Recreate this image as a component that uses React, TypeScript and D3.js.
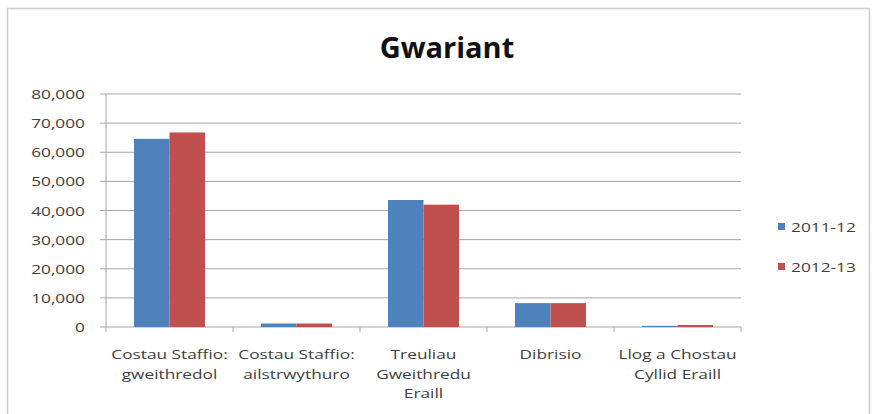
import React, { useEffect, useRef } from 'react';
import * as d3 from 'd3';

const categories = [
  ['Costau Staffio:', 'gweithredol'],
  ['Costau Staffio:', 'ailstrwythuro'],
  ['Treuliau', 'Gweithredu', 'Eraill'],
  ['Dibrisio'],
  ['Llog a Chostau', 'Cyllid Eraill'],
];
const seriesNames = ['2011-12', '2012-13'];
const values2011 = [64600, 1200, 43600, 8200, 400];
const values2012 = [66800, 1200, 42000, 8200, 700];
const yTicks = [0, 10000, 20000, 30000, 40000, 50000, 60000, 70000, 80000];
const colors = ['#4F81BD', '#C0504D'];

const App: React.FC = () => {
  const ref = useRef<SVGSVGElement>(null);

  useEffect(() => {
    if (!ref.current) return;
    const svg = d3.select(ref.current);
    svg.selectAll('*').remove();

    const font = '"Open Sans", "Liberation Sans", sans-serif';
    const left = 106, right = 741, top = 94, bottom = 327;
    const sx = 1.28; // the source picture is stretched sideways

    // small label, stretched horizontally around its anchor point
    const label = (x: number, y: number, txt: string, anchor: string) =>
      svg.append('text')
        .attr('transform', `translate(${x},${y}) scale(${sx},1)`)
        .attr('text-anchor', anchor)
        .attr('font-family', font).attr('font-size', 13.5).attr('fill', '#404040')
        .text(txt);

    // outer frame
    svg.append('rect')
      .attr('x', 7.5).attr('y', 8.5)
      .attr('width', 862).attr('height', 420)
      .attr('fill', '#fff').attr('stroke', '#d0cccc').attr('stroke-width', 1.5);

    svg.append('text')
      .attr('x', 447).attr('y', 58)
      .attr('text-anchor', 'middle')
      .attr('font-family', font).attr('font-weight', 'bold')
      .attr('font-size', 29).attr('fill', '#111')
      .text('Gwariant');

    const x0 = d3.scaleBand<number>()
      .domain(categories.map((_, i) => i))
      .range([left, right]);
    const x1 = d3.scaleBand<number>()
      .domain([0, 1])
      .range([28, x0.bandwidth() - 28]);
    const y = d3.scaleLinear().domain([0, 80000]).range([bottom, top]);

    // gridlines
    svg.append('g').selectAll('line').data(yTicks).enter().append('line')
      .attr('x1', left - 6).attr('x2', right)
      .attr('y1', d => y(d)).attr('y2', d => y(d))
      .attr('stroke', '#a6a6a6').attr('stroke-width', 1);

    // y axis line
    svg.append('line')
      .attr('x1', left).attr('x2', left).attr('y1', top).attr('y2', bottom)
      .attr('stroke', '#a6a6a6');

    // category ticks
    const tickXs = categories.map((_, i) => x0(i) as number).concat([right]);
    svg.append('g').selectAll('line').data(tickXs).enter().append('line')
      .attr('x1', d => d).attr('x2', d => d)
      .attr('y1', bottom).attr('y2', bottom + 5)
      .attr('stroke', '#a6a6a6');

    // y labels
    yTicks.forEach(t => label(85, y(t) + 5, d3.format(',')(t), 'end'));

    // bars
    const seriesVals = [values2011, values2012];
    seriesVals.forEach((vals, s) => {
      svg.append('g').selectAll('rect').data(vals).enter().append('rect')
        .attr('x', (_, i) => (x0(i) as number) + (x1(s) as number))
        .attr('width', x1.bandwidth())
        .attr('y', d => y(d))
        .attr('height', d => bottom - y(d))
        .attr('fill', colors[s]);
    });

    // x labels
    categories.forEach((lines, i) => {
      const cx = (x0(i) as number) + x0.bandwidth() / 2;
      lines.forEach((ln, j) => label(cx, 359 + j * 19.5, ln, 'middle'));
    });

    // legend
    seriesNames.forEach((name, s) => {
      const ly = 228 + s * 40;
      svg.append('rect')
        .attr('x', 778).attr('y', ly - 5).attr('width', 7).attr('height', 7)
        .attr('fill', colors[s]);
      label(791, ly + 4, name, 'start');
    });
  }, []);

  return (
    <svg ref={ref} width={872} height={414}
      style={{ position: 'fixed', left: 0, top: 0, background: '#fff' }} />
  );
};

export default App;
